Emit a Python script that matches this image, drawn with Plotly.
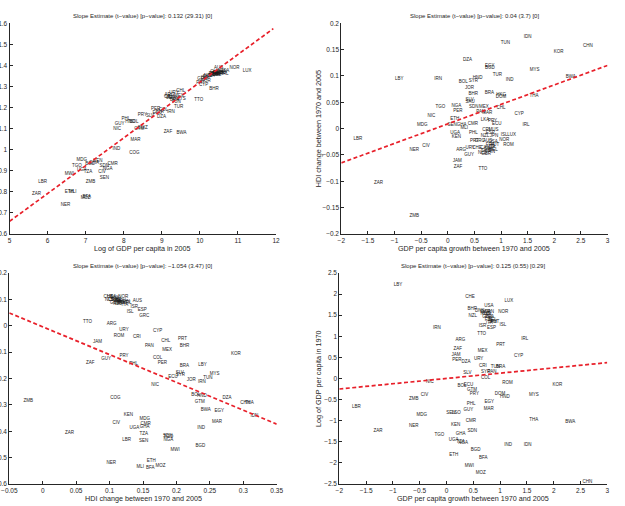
import plotly.graph_objects as go

# ---------------- Panel 1: log GDP 2005 vs HDI ----------------
p1_labels = ["LUX","NOR","AUS","USA","CHE","NLD","DNK","CAN","JPN","SWE","FIN","AUT","BEL","FRA","GBR","ISL","IRL","ITA","DEU","NZL","ESP","ISR","GRC","KOR","PRT","CYP",
             "BHR","TTO","CHL","ARG","URY","CRI","MEX","MYS","PAN","BRA","TUN","VEN","TUR","IRN",
             "PER","COL","ECU","SLV","DZA","JOR","PRY","PHL","HND","BOL","GUY","NIC","GTM","SWZ","ZAF","BWA","MAR","IND","COG",
             "MDG","KEN","BGD","GHA","CMR","TGO","SDN","NGA","UGA","TZA","CIV","MWI","SEN","LBR","ZMB","ZAR","ETH","MLI","BFA","MOZ","NER"]
p1_x = [11.24,10.91,10.49,10.65,10.40,10.46,10.52,10.58,10.36,10.43,10.33,10.50,10.45,10.40,10.37,10.60,10.66,10.30,10.48,10.22,10.20,10.12,10.06,10.16,10.02,10.10,
        10.37,9.97,9.50,9.20,9.32,9.16,9.45,9.50,9.26,9.34,9.38,9.22,9.44,9.24,
        8.84,9.04,8.88,8.69,8.99,8.94,8.49,8.06,8.17,8.27,7.89,7.83,8.41,8.50,9.16,9.52,8.31,7.81,8.28,
        6.90,7.32,7.12,7.22,7.71,6.77,7.49,7.58,6.90,7.06,7.43,6.57,7.49,5.87,7.13,5.71,6.57,6.66,7.03,7.00,6.47]
p1_y = [1.374,1.388,1.390,1.372,1.368,1.365,1.366,1.368,1.362,1.362,1.358,1.358,1.357,1.355,1.356,1.363,1.362,1.352,1.366,1.350,1.345,1.340,1.334,1.326,1.318,1.308,
        1.289,1.237,1.281,1.262,1.268,1.250,1.255,1.242,1.245,1.236,1.228,1.248,1.205,1.181,
        1.192,1.190,1.173,1.161,1.155,1.181,1.164,1.148,1.131,1.130,1.124,1.098,1.099,1.104,1.085,1.080,1.049,1.003,0.985,
        0.952,0.946,0.933,0.938,0.935,0.921,0.925,0.908,0.902,0.896,0.896,0.883,0.867,0.846,0.846,0.790,0.802,0.799,0.774,0.770,0.736]

# ---------------- Panel 2: GDP growth vs HDI change ----------------
p2_labels = ["IDN","TUN","CHN","KOR","DZA","EGY","BGD","MYS","TUR","LBY","IRN","HND","BOL","SYR","IND","BWA","JOR","BHR","BRA","HKG","DOM","THA","SLV","SAU",
             "TGO","NGA","PER","SDN","MEX","NIC","CHL","PAN","MAR","CYP","ETH","MDG","SEN","GHA","CMR","LKA","PRY","ECU","IRL","MLI",
             "LBR","UGA","PHL","CRI","MUS","ESP","JPN","NZL","ISL","LUX","KEN","NOR",
             "PRT","GRC","AUS","USA","FRA","ITA","CAN","DNK","SWE","BEL","NLD","GBR","URY","CHE","FIN","AUT",
             "ROM","CIV","NER","ARG","GUY","JAM","ZAF","TTO","ZAR","ZMB"]
p2_x = [1.50,1.08,2.63,2.08,0.37,0.79,0.79,1.63,0.93,-0.91,-0.18,0.56,0.29,0.48,1.16,2.31,0.41,0.48,0.78,1.00,1.00,1.62,0.41,0.42,
        -0.14,0.16,0.19,0.49,0.68,-0.31,1.00,0.62,0.74,1.34,0.13,-0.48,0.08,0.26,0.47,0.70,0.84,0.92,1.47,0.31,
        -1.69,0.14,0.48,0.72,0.86,0.80,0.87,0.70,1.06,1.20,0.16,1.06,
        0.50,0.60,0.75,0.85,0.80,0.83,0.70,0.78,0.72,0.86,0.65,0.72,0.42,0.55,0.82,0.88,
        1.14,-0.41,-0.63,0.25,0.40,0.18,0.19,0.66,-1.30,-0.63]
p2_y = [0.1735,0.163,0.157,0.145,0.130,0.120,0.116,0.111,0.103,0.095,0.095,0.097,0.089,0.090,0.093,0.099,0.077,0.0665,0.067,0.064,0.060,0.0614,0.055,0.051,
        0.042,0.043,0.0343,0.042,0.042,0.024,0.040,0.032,0.030,0.028,0.019,0.0072,0.0072,0.008,0.009,0.017,0.015,0.009,0.0072,0.002,
        -0.0186,-0.0079,-0.0079,-0.002,-0.003,-0.008,-0.013,-0.013,-0.0117,-0.0117,-0.016,-0.021,
        -0.023,-0.024,-0.023,-0.026,-0.030,-0.034,-0.036,-0.039,-0.042,-0.040,-0.046,-0.047,-0.037,-0.037,-0.045,-0.030,
        -0.031,-0.033,-0.041,-0.041,-0.049,-0.062,-0.072,-0.077,-0.103,-0.166]

# ---------------- Panel 3: HDI change vs (residual) ----------------
p3_labels = ["CHE","USA","DNK","SWE","CAN","NLD","JPN","FRA","BEL","GBR","NZL","AUT","DEU","FIN","ITA","IRL","NOR","AUS","ISR","ISL","ESP","GRC",
             "TTO","ARG","URY","CYP","ROM","CRI","PRT","JAM","CHL","PAN","BHR","MEX","KOR","PRY","COL","GUY","ZAF","PER","PHL","BRA","LBY",
             "MYS","SLV","SYR","TUN","ECU","JOR","IRN","NIC","ZMB","COG","BOL","HND","DZA","GTM","CHN","THA","BWA","EGY","IDN",
             "KEN","MDG","MAR","CIV","CMR","UGA","GHA","IND","ZAR","TZA","SDN","TGO","NGA","LBR","SEN","BGD","MWI","ETH","NER","MLI","MOZ","BFA"]
p3_x = [0.098,0.103,0.108,0.110,0.105,0.100,0.112,0.115,0.118,0.108,0.112,0.120,0.117,0.125,0.123,0.128,0.1206,0.1415,0.137,0.1306,0.149,0.152,
        0.067,0.103,0.1216,0.172,0.114,0.141,0.209,0.082,0.184,0.1595,0.212,0.186,0.289,0.1216,0.172,0.095,0.071,0.179,0.136,0.212,0.239,
        0.257,0.205,0.206,0.247,0.195,0.222,0.238,0.168,-0.0216,0.1086,0.229,0.238,0.2757,0.235,0.3026,0.309,0.244,0.264,0.3166,
        0.128,0.1525,0.2607,0.110,0.154,0.137,0.1525,0.237,0.040,0.151,0.187,0.188,0.188,0.1256,0.151,0.236,0.198,0.1625,0.1026,0.146,0.176,0.161]
p3_y = [0.108,0.110,0.105,0.100,0.097,0.100,0.093,0.090,0.088,0.088,0.083,0.085,0.095,0.092,0.080,0.087,0.110,0.094,0.070,0.051,0.059,0.038,
        0.014,0.008,-0.014,-0.019,-0.038,-0.043,-0.048,-0.060,-0.058,-0.078,-0.077,-0.090,-0.105,-0.113,-0.121,-0.126,-0.141,-0.139,-0.144,-0.154,-0.150,
        -0.184,-0.180,-0.188,-0.197,-0.193,-0.207,-0.211,-0.226,-0.284,-0.275,-0.263,-0.265,-0.275,-0.289,-0.294,-0.294,-0.318,-0.322,-0.340,
        -0.339,-0.352,-0.366,-0.370,-0.373,-0.388,-0.383,-0.387,-0.406,-0.411,-0.416,-0.423,-0.433,-0.431,-0.437,-0.455,-0.470,-0.514,-0.520,-0.536,-0.531,-0.540]

# ---------------- Panel 4: GDP growth vs log GDP 1970 ----------------
p4_labels = ["LBY","CHE","LUX","USA","BHR","DNK","SWE","CAN","AUS","NLD","GBR","FRA","BEL","AUT","FIN","ITA","JPN","NOR","NZL","ISL","ISR","ESP","IRN","TTO",
             "ARG","IRL","PRT","ZAF","MEX","JAM","CYP","PER","DZA","URY","CRI","TUN","BRA","SYR","PAN","SLV","COL","NIC","ROM","KOR","BOL","ECU",
             "CIV","GTM","PRY","DOM","HND","MYS","ZMB","PHL","EGY","LBR","GUY","MAR","SEN","LSO","MDG","THA","BWA","CMR","KEN","NER","ZAR","SDN",
             "TGO","GHA","UGA","TZA","NGA","IND","IDN","BGD","ETH","BFA","MWI","MOZ","CHN"]
p4_x = [-0.905,0.44,1.165,0.79,0.48,0.62,0.72,0.80,0.75,0.72,0.76,0.80,0.86,0.90,0.78,0.80,0.86,1.06,0.49,1.05,0.67,0.84,-0.18,0.655,
        0.257,1.46,1.01,0.21,0.674,0.177,1.346,0.195,0.363,0.60,0.68,0.91,1.01,0.73,0.85,0.388,0.73,-0.31,1.14,2.07,0.29,0.41,
        -0.41,0.475,0.52,1.00,1.09,1.63,-0.61,0.46,0.80,-1.68,0.41,0.786,0.083,0.18,-0.464,1.626,2.31,0.456,0.17,-0.613,-1.28,0.48,
        -0.134,0.264,0.133,0.26,0.31,1.15,1.514,0.544,0.133,0.687,0.425,0.637,2.63]
p4_y = [2.21,1.93,1.83,1.73,1.64,1.60,1.58,1.58,1.55,1.52,1.47,1.45,1.40,1.35,1.38,1.31,1.33,1.59,1.49,1.27,1.24,1.21,1.19,1.06,
        0.91,0.944,0.79,0.707,0.644,0.557,0.541,0.438,0.39,0.454,0.296,0.265,0.265,0.16,0.16,0.122,0.02,-0.083,-0.115,-0.16,-0.186,-0.154,
        -0.383,-0.28,-0.367,-0.375,-0.43,-0.383,-0.478,-0.59,-0.556,-0.675,-0.746,-0.715,-0.825,-0.825,-0.873,-0.983,-1.02,-1.00,-1.094,-1.13,-1.24,-1.23,
        -1.34,-1.31,-1.46,-1.49,-1.52,-1.58,-1.58,-1.70,-1.81,-1.88,-2.07,-2.24,-2.44]

# regression fits (slope, intercept)
slopes = [0.132, 0.037, -1.054, 0.125]
intercepts = [0.0, 0.009, -0.004, 0.001]
titles = ["Slope Estimate (t\u2212value) [p\u2212value]: 0.132 (29.31) [0]",
          "Slope Estimate (t\u2212value) [p\u2212value]: 0.04 (3.7) [0]",
          "Slope Estimate (t\u2212value) [p\u2212value]: \u22121.054 (3.47) [0]",
          "Slope Estimate (t\u2212value) [p\u2212value]: 0.125 (0.55) [0.29]"]
xtitles = ["Log of GDP per capita in 2005",
           "GDP per capita growth between 1970 and 2005",
           "HDI change between 1970 and 2005",
           "GDP per capita growth between 1970 and 2005"]
ytitles = [None, "HDI change between 1970 and 2005", None, "Log of GDP per capita in 1970"]
xranges = [[5, 12], [-2, 3], [-0.05, 0.35], [-2, 3]]
yranges = [[0.6, 1.6], [-0.2, 0.2], [-0.6, 0.2], [-2.5, 2.5]]
xdticks = [1, 0.5, 0.05, 0.5]
ydticks = [0.1, 0.05, 0.1, 0.5]

panels = [(p1_labels, p1_x, p1_y), (p2_labels, p2_x, p2_y), (p3_labels, p3_x, p3_y), (p4_labels, p4_x, p4_y)]

W, H = 625, 506
xdom_px = [(9.5, 276), (341.3, 607.5), (9.3, 276.7), (339.3, 607.3)]
ydom_px = [(23.3, 234), (23.3, 234), (273, 484), (273, 484)]

INK = "#262626"
FONT = "Liberation Sans, Arial, sans-serif"

fig = go.Figure()
annotations = []
for i, (labs, xs, ys) in enumerate(panels):
    n = "" if i == 0 else str(i + 1)
    xa, ya = "x" + n, "y" + n
    fig.add_trace(go.Scatter(x=xs, y=ys, text=labs, mode="text", xaxis=xa, yaxis=ya,
                             textposition="middle center", cliponaxis=False,
                             textfont=dict(size=4.5, color="#1a1a1a", family=FONT),
                             showlegend=False, hoverinfo="text"))
    x0, x1 = xranges[i]
    if i == 0:
        x1 = 11.93
    fig.add_trace(go.Scatter(x=[x0, x1], y=[intercepts[i] + slopes[i] * x0, intercepts[i] + slopes[i] * x1],
                             mode="lines", xaxis=xa, yaxis=ya, showlegend=False,
                             line=dict(color="#e8202a", width=1.7, dash="4px,2.5px")))
    xd = [xdom_px[i][0] / W, xdom_px[i][1] / W]
    yd = [1 - ydom_px[i][1] / H, 1 - ydom_px[i][0] / H]
    lo, hi = yranges[i]
    common = dict(showgrid=False, zeroline=False, showline=True, linecolor=INK, linewidth=1,
                  ticks="inside", ticklen=3, tickcolor=INK, tickwidth=1, automargin=False,
                  tickfont=dict(size=6.5, color=INK, family=FONT))
    xaxis = dict(domain=xd, range=xranges[i], dtick=xdticks[i], tick0=xranges[i][0],
                 anchor=ya, **common)
    yaxis = dict(domain=yd, range=yranges[i], dtick=ydticks[i], tick0=lo,
                 anchor=xa, **common)
    if i == 0:
        yaxis["tick0"] = 0.7
    fig.update_layout(**{"xaxis" + n: xaxis, "yaxis" + n: yaxis})
    cx = (xd[0] + xd[1]) / 2
    title_y = 1 - (16 if i < 2 else 266) / H
    annotations.append(dict(text=titles[i], x=cx, y=title_y, xref="paper", yref="paper",
                            showarrow=False, xanchor="center", yanchor="middle",
                            font=dict(size=6, color=INK, family=FONT)))
    xt_y = 1 - (248 if i < 2 else 498) / H
    annotations.append(dict(text=xtitles[i], x=cx, y=xt_y, xref="paper", yref="paper",
                            showarrow=False, xanchor="center", yanchor="middle",
                            font=dict(size=7.2, color=INK, family=FONT)))
    if ytitles[i]:
        yc = (yd[0] + yd[1]) / 2
        annotations.append(dict(text=ytitles[i], x=318.5 / W, y=yc, xref="paper", yref="paper",
                                showarrow=False, xanchor="center", yanchor="middle", textangle=-90,
                                font=dict(size=7.2, color=INK, family=FONT)))

fig.update_layout(width=W, height=H, margin=dict(l=0, r=0, t=0, b=0),
                  paper_bgcolor="white", plot_bgcolor="white",
                  annotations=annotations)
fig.write_html("out.html")
